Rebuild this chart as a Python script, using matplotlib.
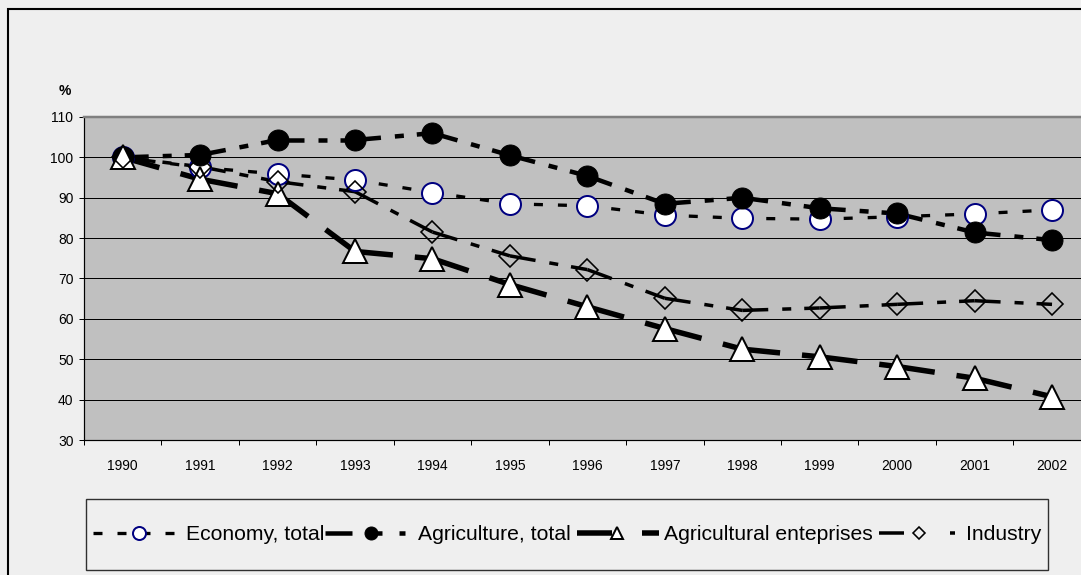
import numpy as np
import matplotlib
matplotlib.use("Agg")
import matplotlib.pyplot as plt
from matplotlib.lines import Line2D
from matplotlib.patches import Rectangle

plt.rcParams['font.family'] = ['Liberation Sans', 'DejaVu Sans']
plt.rcParams['lines.scale_dashes'] = False

# Index, 1990 = 100
years = [1990, 1991, 1992, 1993, 1994, 1995, 1996, 1997, 1998, 1999, 2000, 2001, 2002]
economy = [100, 97.5, 95.9, 94.4, 91.3, 88.5, 88.0, 85.7, 84.9, 84.7, 85.3, 86.0, 87.0]
agriculture = [100, 100.6, 104.3, 104.3, 106.0, 100.5, 95.4, 88.5, 90.0, 87.4, 86.1, 81.4, 79.5]
enterprises = [100, 94.6, 91.0, 76.7, 74.9, 68.5, 63.0, 57.6, 52.5, 50.6, 48.2, 45.3, 40.7]
industry = [100, 97.7, 94.0, 91.5, 81.5, 75.6, 72.2, 65.1, 62.1, 62.7, 63.6, 64.5, 63.6]

labels = ['Economy, total', 'Agriculture, total', 'Agricultural enteprises', 'Industry']
series = [economy, agriculture, enterprises, industry]

W, H = 1081, 575
PT = 0.72  # points per pixel at dpi 100

# line and marker styles (lengths in pixels)
# dashes: pattern for the plotted segments; ldash: (offset, pattern) for the legend sample
styles = [
    dict(lw=3.3, dashes=(9, 15), ldash=(0, (9, 15)),
         marker='o', ms=21, mfc='white', mec='#000080', mew=2.0, lms=13),
    dict(lw=4.5, dashes=(26, 14, 9, 13), ldash=(0, (27, 18, 12, 17, 6, 12)),
         marker='o', ms=21, mfc='black', mec='black', mew=1.0, lms=13),
    dict(lw=5.5, dashes=(38, 22), ldash=(86, (35, 30, 17, 10)),
         marker='^', ms=24, mfc='white', mec='black', mew=2.0, lms=12),
    dict(lw=3.5, dashes=(26, 14, 9, 13), ldash=(86, (25, 46, 5, 16)),
         marker='D', ms=15, mfc='none', mec='black', mew=1.6, lms=9),
]

fig = plt.figure(figsize=(W / 100, H / 100), dpi=100, facecolor='#EFEFEF')

# chart border
fig.patches.append(Rectangle((8 / W, -0.1), 1.2, 1.1 - 8.5 / H, transform=fig.transFigure,
                             fill=False, edgecolor='black', lw=1.5, zorder=0))

x0, x1 = 84, 1090.75
ytop, ybot = 117, 440
ax = fig.add_axes([x0 / W, 1 - ybot / H, (x1 - x0) / W, (ybot - ytop) / H])
ax.set_facecolor('#C0C0C0')

x = np.arange(len(years))
for k, (vals, st) in enumerate(zip(series, styles)):
    ls = (0, tuple(d * PT for d in st['dashes']))
    # each segment restarts the dash pattern
    for i in range(len(x) - 1):
        ax.plot(x[i:i + 2], vals[i:i + 2], color='black', lw=st['lw'] * PT,
                linestyle=ls, dash_capstyle='butt', zorder=2)
    ax.plot(x, vals, linestyle='none', marker=st['marker'], ms=st['ms'] * PT,
            mfc=st['mfc'], mec=st['mec'], mew=st['mew'] * PT, zorder=3 + k, clip_on=False)

ax.set_xlim(-0.5, 12.5)
ax.set_ylim(30, 110)
ax.set_yticks(range(30, 111, 10))
ax.yaxis.grid(True, color='black', lw=1.0 * PT)
ax.set_axisbelow(True)

ax.set_xticks(x, labels=[str(y) for y in years])
ax.set_xticks(np.arange(-0.5, 13, 1), minor=True)
ax.tick_params(axis='x', which='major', length=0, pad=14, labelsize=10)
ax.tick_params(axis='x', which='minor', length=5 * PT, width=PT, direction='out')
ax.tick_params(axis='y', length=5 * PT, width=PT, direction='out', pad=4, labelsize=10)

ax.spines['right'].set_visible(False)
ax.spines['top'].set_color('#808080')
ax.spines['top'].set_linewidth(2.5 * PT)
ax.spines['left'].set_linewidth(1.2 * PT)
ax.spines['bottom'].set_linewidth(1.2 * PT)

fig.text(65 / W, 1 - 91 / H, '%', ha='center', va='center', fontsize=10, fontweight='bold')

# legend
lx0, lx1, ly0, ly1 = 86, 1048, 499, 570
fig.patches.append(Rectangle((lx0 / W, 1 - ly1 / H), (lx1 - lx0) / W, (ly1 - ly0) / H,
                             transform=fig.transFigure, fill=False, edgecolor='#303030',
                             lw=1.0, zorder=1))
handles = []
for st in styles:
    off, pat = st['ldash']
    handles.append(Line2D([], [], color='black', lw=st['lw'] * PT,
                          linestyle=(off * PT, tuple(d * PT for d in pat)), dash_capstyle='butt',
                          marker=st['marker'], ms=st['lms'] * PT,
                          mfc=st['mfc'] if st['mfc'] != 'none' else '#EFEFEF',
                          mec=st['mec'], mew=st['mew'] * PT))
fig.legend(handles, labels, loc='center', bbox_to_anchor=((lx0 + lx1) / 2 / W, 1 - (ly0 + ly1) / 2 / H),
           ncol=4, frameon=False, fontsize=15.2, handlelength=4.4, handletextpad=0.02,
           columnspacing=0.0, borderpad=0, borderaxespad=0, numpoints=1)

fig.savefig('out.png', dpi=100, facecolor=fig.get_facecolor())
